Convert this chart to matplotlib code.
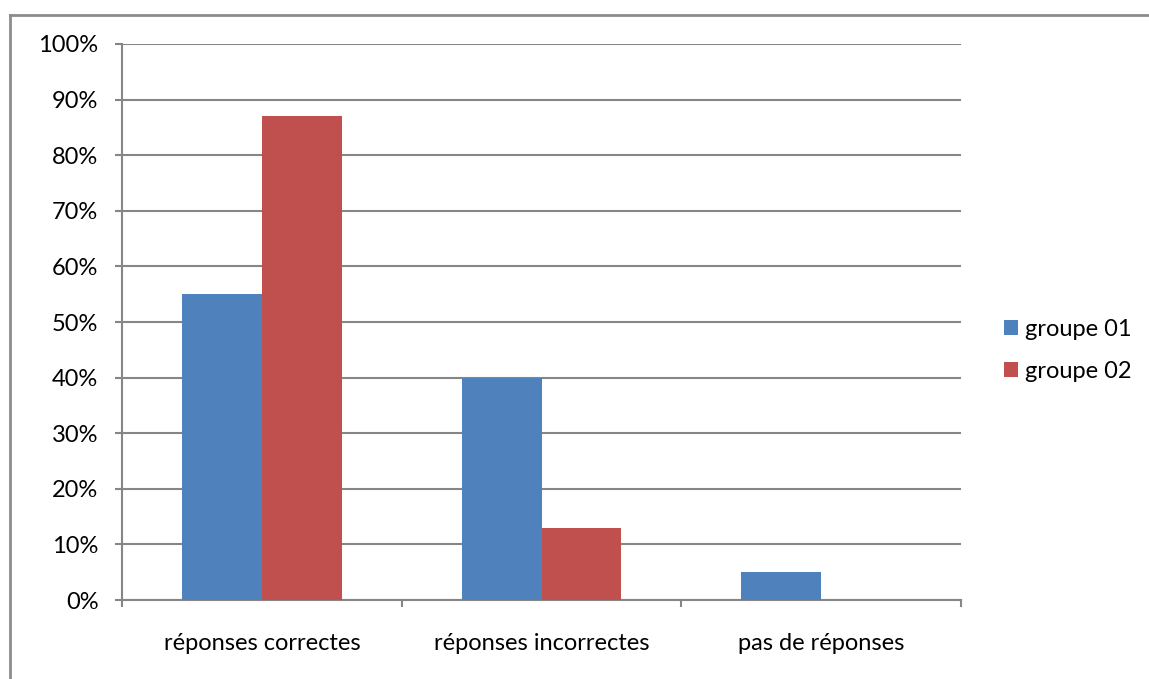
import matplotlib.pyplot as plt
import numpy as np
from matplotlib.lines import Line2D
from matplotlib.ticker import FixedLocator, PercentFormatter

CATEGORIES = ["réponses correctes", "réponses incorrectes", "pas de réponses"]
SERIES = ["groupe 01", "groupe 02"]
GROUPE_01 = [55, 40, 5]
GROUPE_02 = [87, 13, 0]

COLORS = ["#4F81BD", "#C0504D"]
GRID = "#868686"

plt.rcParams["font.family"] = ["Lato", "DejaVu Sans"]

fig = plt.figure(figsize=(11.49, 6.79), dpi=100)
ax = fig.add_axes([0.1062, 0.1163, 0.7302, 0.8189])

x = np.arange(len(CATEGORIES)) + 0.5
width = 80 / 280
for i, (name, vals) in enumerate(zip(SERIES, [GROUPE_01, GROUPE_02])):
    ax.bar(x + (i - 0.5) * width, vals, width=width, color=COLORS[i],
           label=name, zorder=3, linewidth=0)

ax.set_xlim(0, len(CATEGORIES))
ax.set_ylim(0, 100)
ax.set_yticks(np.arange(0, 101, 10))
ax.yaxis.set_major_formatter(PercentFormatter(decimals=0))
ax.set_xticks(x)
ax.set_xticklabels(CATEGORIES)
ax.xaxis.set_minor_locator(FixedLocator(np.arange(len(CATEGORIES) + 1)))
ax.tick_params(axis="x", which="major", length=0, pad=24, labelsize=17)
ax.tick_params(axis="x", which="minor", length=5, width=1.5, color=GRID)
ax.tick_params(axis="y", length=5, width=1.5, color=GRID, pad=12, labelsize=17)

ax.grid(axis="y", color=GRID, linewidth=1.5, zorder=0)
for side in ["top", "right"]:
    ax.spines[side].set_visible(False)
for side in ["left", "bottom"]:
    ax.spines[side].set_color(GRID)
    ax.spines[side].set_linewidth(1.5)

fig.legend(loc="center left", bbox_to_anchor=(0.855, 0.484), frameon=False,
           fontsize=17, handlelength=0.6, handleheight=0.6, handletextpad=0.3,
           labelspacing=0.9)

# outer chart border (top and left edges visible)
fig.add_artist(Line2D([10 / 1149, 10 / 1149], [0, 1 - 15 / 679],
                      transform=fig.transFigure, color="#8C8C8C", linewidth=2))
fig.add_artist(Line2D([10 / 1149, 1], [1 - 15 / 679, 1 - 15 / 679],
                      transform=fig.transFigure, color="#8C8C8C", linewidth=2))

fig.savefig("out.png", dpi=100)
